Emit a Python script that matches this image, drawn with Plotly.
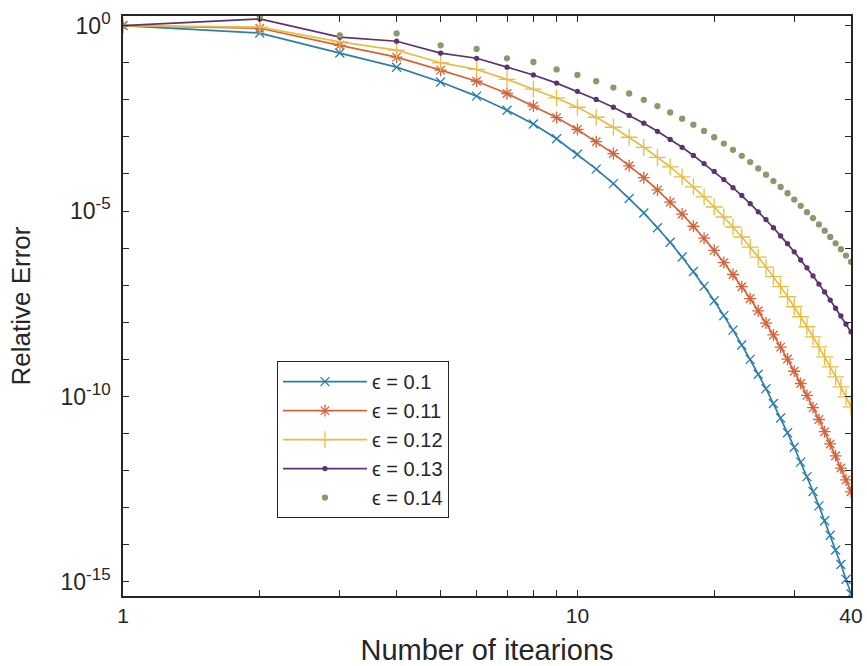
import plotly.graph_objects as go

iterations = list(range(1, 41))

# log10 of relative error
log_err_010 = [0.00, -0.20, -0.74, -1.12, -1.52, -1.90, -2.28, -2.65, -3.05, -3.47,
               -3.87, -4.26, -4.66, -5.05, -5.45, -5.84, -6.24, -6.63, -7.03, -7.42,
               -7.82, -8.21, -8.61, -9.00, -9.40, -9.79, -10.19, -10.58, -10.98, -11.37,
               -11.77, -12.16, -12.56, -12.95, -13.35, -13.74, -14.14, -14.53, -14.93, -15.32]
log_err_011 = [0.00, -0.07, -0.53, -0.85, -1.20, -1.50, -1.83, -2.17, -2.48, -2.80,
               -3.13, -3.45, -3.78, -4.10, -4.43, -4.76, -5.08, -5.41, -5.73, -6.06,
               -6.39, -6.71, -7.04, -7.36, -7.69, -8.02, -8.34, -8.67, -8.99, -9.32,
               -9.65, -9.97, -10.30, -10.62, -10.95, -11.28, -11.60, -11.93, -12.25, -12.57]
log_err_012 = [0.00, -0.04, -0.44, -0.66, -1.00, -1.18, -1.45, -1.71, -1.95, -2.20,
               -2.47, -2.74, -3.01, -3.28, -3.55, -3.81, -4.08, -4.35, -4.62, -4.89,
               -5.16, -5.43, -5.70, -5.97, -6.24, -6.51, -6.77, -7.04, -7.31, -7.58,
               -7.85, -8.12, -8.39, -8.66, -8.93, -9.20, -9.47, -9.74, -10.01, -10.28]
log_err_013 = [0.00, 0.18, -0.31, -0.42, -0.74, -0.88, -1.12, -1.33, -1.55, -1.77,
               -1.99, -2.20, -2.42, -2.63, -2.85, -3.07, -3.28, -3.50, -3.72, -3.93,
               -4.15, -4.37, -4.58, -4.80, -5.02, -5.23, -5.45, -5.67, -5.88, -6.10,
               -6.32, -6.53, -6.75, -6.97, -7.18, -7.40, -7.62, -7.83, -8.05, -8.26]
log_err_014 = [0.00, 0.26, -0.26, -0.21, -0.53, -0.63, -0.88, -0.98, -1.18, -1.33,
               -1.50, -1.67, -1.83, -2.00, -2.17, -2.34, -2.51, -2.67, -2.84, -3.01,
               -3.18, -3.35, -3.51, -3.68, -3.85, -4.02, -4.19, -4.35, -4.52, -4.69,
               -4.86, -5.03, -5.19, -5.36, -5.53, -5.70, -5.87, -6.03, -6.20, -6.37]

series_names = ["ϵ = 0.1", "ϵ = 0.11", "ϵ = 0.12", "ϵ = 0.13", "ϵ = 0.14"]
series_logs = [log_err_010, log_err_011, log_err_012, log_err_013, log_err_014]
colors = ["#2c7eaa", "#d5643a", "#e6bd45", "#5b3470", "#8a9a6c"]
modes = ["lines+markers", "lines+markers", "lines+markers", "lines+markers", "markers"]
symbols = ["x-thin-open", "asterisk-open", "cross-thin-open", "circle", "circle"]
msizes = [9, 10, 12, 4, 5]

x_tickvals = [1, 10, 40]
x_ticktext = ["1", "10", "40"]
x_minor_tickvals = [2, 3, 4, 5, 6, 7, 8, 9, 20, 30]
y_label_exponents = [0, -5, -10, -15]
y_tickvals = [10.0 ** e for e in y_label_exponents]
y_ticktext = ["10<sup><span style='font-size:17px'>%d</span></sup>" % e for e in y_label_exponents]
y_minor_exponents = [-1, -2, -3, -4, -6, -7, -8, -9, -11, -12, -13, -14]
y_minor_tickvals = [10.0 ** e for e in y_minor_exponents]

fig = go.Figure()
for name, logs, c, m, s, ms in zip(series_names, series_logs, colors, modes, symbols, msizes):
    fig.add_trace(go.Scatter(
        x=iterations, y=[10.0 ** v for v in logs], name=name, mode=m,
        line=dict(color=c, width=1.7),
        marker=dict(symbol=s, size=ms, color=c, line=dict(color=c, width=1.3)),
    ))

axis_color = "#262626"
fig.update_layout(
    width=867, height=666,
    margin=dict(l=123, r=16, t=16, b=70),
    paper_bgcolor="white", plot_bgcolor="white",
    font=dict(family="Liberation Sans, Arial, sans-serif", color=axis_color, size=21),
    xaxis=dict(
        type="log", range=[0, 1.60206], automargin=False,
        tickmode="array", tickvals=x_tickvals, ticktext=x_ticktext,
        ticks="inside", ticklen=6, tickcolor=axis_color, tickwidth=1,
        minor=dict(tickmode="array", tickvals=x_minor_tickvals, ticks="inside",
                   ticklen=6, tickcolor=axis_color, tickwidth=1, showgrid=False),
        showline=True, linecolor=axis_color, linewidth=1.5, mirror="allticks",
        showgrid=False, zeroline=False,
        title=dict(text="Number of itearions", font=dict(size=29), standoff=14),
    ),
    yaxis=dict(
        type="log", range=[-15.38, 0.26], automargin=False,
        tickmode="array", tickvals=y_tickvals, ticktext=y_ticktext, tickfont=dict(size=23),
        ticklabelstandoff=6,
        ticks="inside", ticklen=6, tickcolor=axis_color, tickwidth=1,
        minor=dict(tickmode="array", tickvals=y_minor_tickvals, ticks="inside",
                   ticklen=6, tickcolor=axis_color, tickwidth=1, showgrid=False),
        showline=True, linecolor=axis_color, linewidth=1.5, mirror="allticks",
        showgrid=False, zeroline=False,
        title=dict(text="Relative Error", font=dict(size=26), standoff=22),
    ),
    legend=dict(
        x=0.2115, y=0.405, xanchor="left", yanchor="top",
        bgcolor="white", bordercolor=axis_color, borderwidth=1,
        font=dict(size=20), itemwidth=84, tracegroupgap=0,
    ),
    showlegend=True,
)

fig.write_html("out.html")
